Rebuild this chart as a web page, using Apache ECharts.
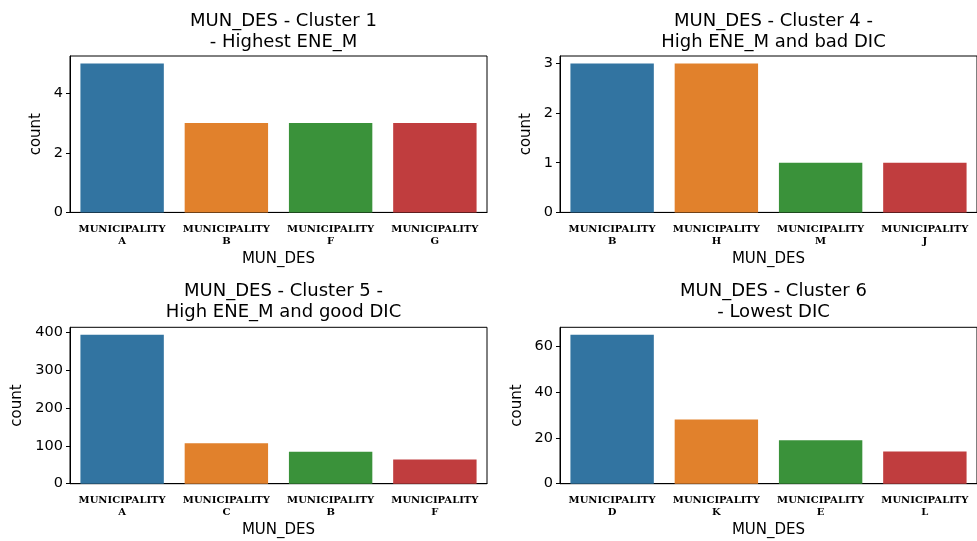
<!DOCTYPE html>
<html><head><meta charset="utf-8">
<script src="https://cdn.jsdelivr.net/npm/echarts@6/dist/echarts.min.js"></script>
<style>html,body{margin:0;padding:0;background:#fff}#c{width:977px;height:541px}</style>
</head><body><div id="c"></div>
<script>
const titles = [
  "MUN_DES - Cluster 1\n- Highest ENE_M",
  "MUN_DES - Cluster 4 -\nHigh ENE_M and bad DIC",
  "MUN_DES - Cluster 5 -\nHigh ENE_M and good DIC",
  "MUN_DES - Cluster 6\n- Lowest DIC"
];
const cats1 = ["MUNICIPALITY\nA","MUNICIPALITY\nB","MUNICIPALITY\nF","MUNICIPALITY\nG"];
const vals1 = [5, 3, 3, 3];
const cats4 = ["MUNICIPALITY\nB","MUNICIPALITY\nH","MUNICIPALITY\nM","MUNICIPALITY\nJ"];
const vals4 = [3, 3, 1, 1];
const cats5 = ["MUNICIPALITY\nA","MUNICIPALITY\nC","MUNICIPALITY\nB","MUNICIPALITY\nF"];
const vals5 = [393, 107, 84, 64];
const cats6 = ["MUNICIPALITY\nD","MUNICIPALITY\nK","MUNICIPALITY\nE","MUNICIPALITY\nL"];
const vals6 = [65, 28, 19, 14];
const ticks1 = [0, 2, 4];
const ticks4 = [0, 1, 2, 3];
const ticks5 = [0, 100, 200, 300, 400];
const ticks6 = [0, 20, 40, 60];
const xName = "MUN_DES";
const yName = "count";

const palette = ["#3274a1", "#e1812c", "#3a923a", "#c03d3e"];
const panels = [
  {cats: cats1, vals: vals1, ticks: ticks1, left: 70, top: 56, yGap: 26, tx: 278.5, ty: 6},
  {cats: cats4, vals: vals4, ticks: ticks4, left: 560, top: 56, yGap: 26, tx: 768.5, ty: 6},
  {cats: cats5, vals: vals5, ticks: ticks5, left: 70, top: 327.3, yGap: 45, tx: 278.5, ty: 276},
  {cats: cats6, vals: vals6, ticks: ticks6, left: 560, top: 327.3, yGap: 35, tx: 768.5, ty: 276}
];
const W = 417, H = 156.4;
const font = "DejaVu Sans";
const option = {
  animation: false,
  backgroundColor: "#fff",
  title: panels.map((p, i) => ({
    text: titles[i], left: p.tx, top: p.ty, textAlign: "center",
    textStyle: {fontFamily: font, fontSize: 18, fontWeight: "normal", color: "#000", lineHeight: 21}
  })),
  grid: panels.map(p => ({left: p.left, top: p.top, width: W, height: H, show: true,
    borderColor: "#000", borderWidth: 1, backgroundColor: "transparent", containLabel: false})),
  xAxis: panels.map((p, i) => ({
    type: "category", gridIndex: i, data: p.cats,
    name: xName, nameLocation: "middle", nameGap: 39,
    nameTextStyle: {fontFamily: font, fontSize: 15, color: "#000"},
    axisLine: {lineStyle: {color: "#000", width: 1}},
    axisTick: {alignWithLabel: true, length: 4, lineStyle: {color: "#000"}},
    axisLabel: {interval: 0, margin: 11, fontFamily: "DejaVu Serif", fontWeight: "bold",
      fontSize: 10, lineHeight: 12, color: "#000"},
    splitLine: {show: false}
  })),
  yAxis: panels.map((p, i) => ({
    type: "value", gridIndex: i, min: 0, max: Math.max(...p.vals) * 1.05,
    name: yName, nameLocation: "middle", nameGap: p.yGap,
    nameTextStyle: {fontFamily: font, fontSize: 15, color: "#000"},
    axisLine: {show: true, lineStyle: {color: "#000", width: 1}},
    axisTick: {show: true, length: 4, lineStyle: {color: "#000"}, customValues: p.ticks},
    axisLabel: {margin: 7, fontFamily: font, fontSize: 14.5, color: "#000", customValues: p.ticks},
    splitLine: {show: false}
  })),
  series: panels.map((p, i) => ({
    type: "bar", xAxisIndex: i, yAxisIndex: i, barCategoryGap: "20%",
    data: p.vals.map((v, j) => ({value: v, itemStyle: {color: palette[j]}}))
  }))
};
echarts.init(document.getElementById("c"), null, {renderer: "canvas"}).setOption(option);
</script></body></html>
